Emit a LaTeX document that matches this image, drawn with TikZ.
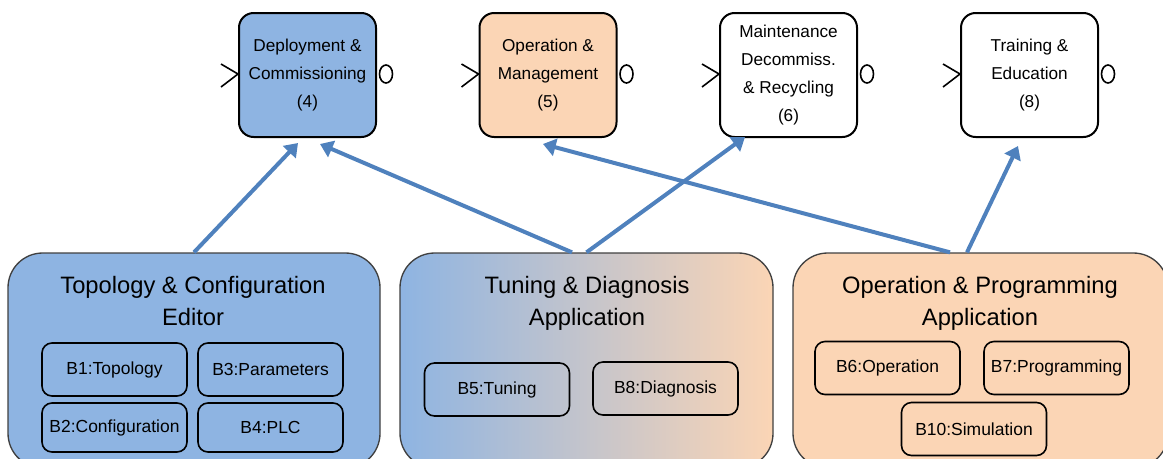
\documentclass[tikz,border=0pt]{standalone}
\usepackage{fontspec}
\setmainfont{Liberation Sans}
\usetikzlibrary{arrows.meta,calc}
\definecolor{boxblue}{HTML}{8EB4E2}
\definecolor{boxpeach}{HTML}{FBD5B5}
\definecolor{arrowblue}{HTML}{4F81BD}
\definecolor{rimgray}{HTML}{404040}
\begin{document}
\begin{tikzpicture}[x=0.75pt,y=-0.75pt,
  phase/.style={draw=black, line width=1.5pt, rounded corners=11pt,
    minimum width=102.75pt, minimum height=93pt, inner sep=0pt,
    align=center, font=\fontsize{12.9}{21}\selectfont},
  group/.style={draw=rimgray, line width=1pt, rounded corners=26pt,
    minimum height=161.25pt, inner sep=0pt},
  grouptitle/.style={align=center, inner sep=0pt,
    font=\fontsize{17.8}{24}\selectfont},
  block/.style={draw=black, line width=1.2pt, rounded corners=7.5pt,
    minimum width=108.75pt, minimum height=39.75pt, inner sep=0pt,
    font=\fontsize{13.1}{15}\selectfont},
  conn/.style={draw=arrowblue, line width=3pt,
    -{Triangle[width=13pt,length=9.5pt]}},
  port/.style={draw=black, line width=1.2pt}
]
\useasboundingbox (0,0) rectangle (1163,458);
\clip (0,0) rectangle (1163,458);

% life-cycle phases
\node[phase, fill=boxblue]  (d4) at (307.5,75) {Deployment \&\\Commissioning\\(4)};
\node[phase, fill=boxpeach] (d5) at (548,75)   {Operation \&\\Management\\(5)};
\node[phase, fill=white]    (d6) at (788.5,75) {Maintenance\\Decommiss.\\\& Recycling\\(6)};
\node[phase, fill=white]    (d8) at (1029.5,75){Training \&\\Education\\(8)};

% input chevrons and output ports of the phases
\foreach \p in {d4,d5,d6,d8}{
  \draw[port] ($(\p.west)+(-17,-11)$) -- ($(\p.west)+(0,-1)$) -- ($(\p.west)+(-17,12)$);
  \draw[port] ($(\p.east)+(9,-1)$) ellipse [x radius=6.5, y radius=9];
}

% tool groups
\node[group, fill=boxblue, minimum width=279pt] (tc) at (194,360.5) {};
\node[grouptitle] (tct) at (193,301) {Topology \& Configuration\\Editor};
\node[group, left color=boxblue, right color=boxpeach, minimum width=279.75pt] (td) at (586.5,360.5) {};
\node[grouptitle] (tdt) at (587,303.5) {Tuning \& Diagnosis\\Application};
\node[group, fill=boxpeach, minimum width=281.25pt] (op) at (980.5,360.5) {};
\node[grouptitle] (opt) at (980,303.5) {Operation \& Programming\\Application};

% building blocks
\node[block] (b1) at (114.5,369.5) {B1:Topology};
\node[block] (b3) at (270.5,369.5) {B3:Parameters};
\node[block, minimum height=36.75pt] (b2) at (114.5,427.5) {B2:Configuration};
\node[block, minimum height=36.75pt] (b4) at (270.5,427.5) {B4:PLC};
\node[block] (b5) at (497,389.5) {B5:Tuning};
\node[block] (b8) at (665.5,388.5) {B8:Diagnosis};
\node[block] (b6) at (887.5,368) {B6:Operation};
\node[block] (b7) at (1056.5,368) {B7:Programming};
\node[block] (b10) at (974,429) {B10:Simulation};

% support relations
\draw[conn] (tc.north) -- ($(d4.south)+(-9.5,5)$);
\draw[conn] ($(td.north)+(-14.5,0)$) -- ($(d4.south)+(12.5,6)$);
\draw[conn] (td.north) -- ($(d6.south)+(-43.5,-1)$);
\draw[conn] ($(op.north)+(-30.5,0)$) -- ($(d5.south)+(-5,6)$);
\draw[conn] ($(op.north)+(-13.5,0)$) -- ($(d8.south)+(-11.5,8)$);
\end{tikzpicture}
\end{document}
